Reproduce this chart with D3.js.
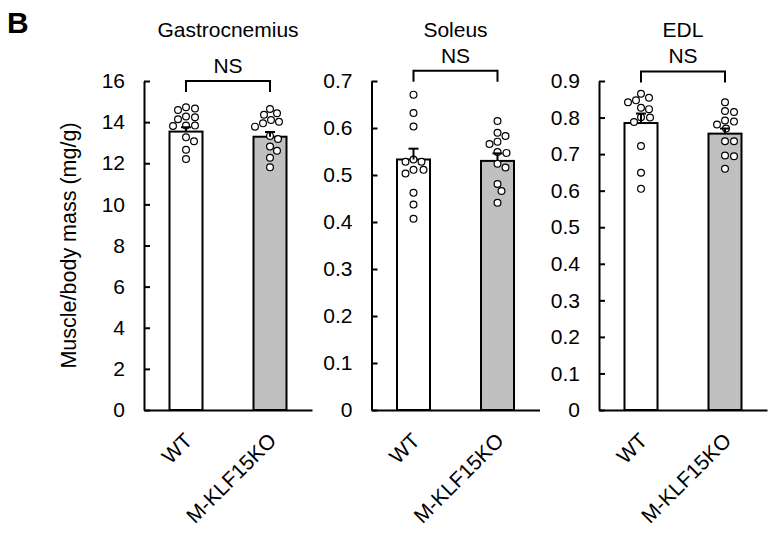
<!DOCTYPE html>
<html>
<head>
<meta charset="utf-8">
<script src="https://cdn.jsdelivr.net/npm/d3@7"></script>
<style>
  body { margin: 0; background: #fff; }
  svg text { font-family: "Liberation Sans", Arial, sans-serif; fill: #000; }
</style>
</head>
<body>
<svg id="muscle" width="779" height="533"></svg>
<script>
// panel names, groups and axis settings
const panels = ["Gastrocnemius", "Soleus", "EDL"];
const groups = ["WT", "M-KLF15KO"];
const yMax = [16, 0.7, 0.9];
const yStep = [2, 0.1, 0.1];
const bracketTop = [16, 0.722, 0.926];

// bar heights (mean) and SEM
const means = [[13.54, 13.29], [0.533, 0.530], [0.785, 0.756]];
const sems = [[0.21, 0.23], [0.023, 0.016], [0.026, 0.014]];

// individual animals
const gastroWT = [14.72, 14.66, 14.59, 14.27, 14.24, 14.14, 13.83, 13.83, 13.81, 13.26, 13.07, 12.66, 12.21];
const gastroKO = [14.64, 14.43, 14.36, 14.10, 14.02, 13.94, 13.78, 13.33, 13.18, 12.81, 12.61, 12.27, 11.80];
const soleusWT = [0.671, 0.632, 0.603, 0.533, 0.528, 0.528, 0.511, 0.511, 0.503, 0.462, 0.437, 0.407];
const soleusKO = [0.615, 0.590, 0.583, 0.571, 0.566, 0.549, 0.547, 0.524, 0.516, 0.481, 0.466, 0.441];
const edlWT = [0.865, 0.854, 0.847, 0.842, 0.827, 0.823, 0.801, 0.800, 0.788, 0.722, 0.649, 0.605];
const edlKO = [0.842, 0.818, 0.815, 0.792, 0.789, 0.781, 0.770, 0.735, 0.735, 0.696, 0.694, 0.660];
const points = [[gastroWT, gastroKO], [soleusWT, soleusKO], [edlWT, edlKO]];

const fills = ["#ffffff", "#c0c0c0"];

const svg = d3.select("svg#muscle");
const plotTop = 81, plotBottom = 410, axisLen = 168, barW = 33, r = 3.4;
const fontSize = 21;
const panelX = i => 144 + i * 227.5;

// simple beeswarm so the dots sit side by side
function swarm(values, y) {
  const placed = [];
  values.slice().sort((a, b) => b - a).forEach(v => {
    const cy = y(v);
    for (let k = 0; k < 60; k++) {
      const dx = (k % 2 ? 1 : -1) * Math.ceil(k / 2);
      const ok = placed.every(p => Math.hypot(p.dx - dx, p.cy - cy) >= 2 * r + 1.3);
      if (ok) { placed.push({ v, cy, dx }); break; }
    }
  });
  return placed;
}

svg.append("text").text("B")
  .attr("x", 7).attr("y", 33)
  .attr("font-size", 30).attr("font-weight", "bold");

svg.append("text").text("Muscle/body mass (mg/g)")
  .attr("transform", `translate(76,${(plotTop + plotBottom) / 2}) rotate(-90)`)
  .attr("text-anchor", "middle")
  .attr("font-size", 21.5);

panels.forEach((name, i) => {
  const g = svg.append("g").attr("transform", `translate(${panelX(i)},0)`);

  const yScale = d3.scaleLinear().domain([0, yMax[i]]).range([plotBottom, plotTop]);
  const xScale = d3.scalePoint().domain(groups).range([0, axisLen]).padding(0.5);

  const fmt = i == 0 ? d3.format("d") : d3.format(".1f");
  const leftAxis = d3.axisLeft(yScale)
    .tickValues(d3.range(0, yMax[i] + yStep[i] / 2, yStep[i]))
    .tickFormat(t => t == 0 ? "0" : fmt(t))
    .tickSizeInner(-6).tickSizeOuter(0).tickPadding(19);
  const ya = g.append("g").call(leftAxis);
  ya.attr("font-family", null).attr("font-size", null);
  ya.selectAll("path, line").attr("stroke-width", 2);
  ya.selectAll("text").attr("font-size", fontSize);

  // bars
  groups.forEach((grp, j) => {
    g.append("rect")
      .attr("x", xScale(grp) - barW / 2)
      .attr("y", yScale(means[i][j]))
      .attr("width", barW)
      .attr("height", yScale(0) - yScale(means[i][j]))
      .attr("fill", fills[j])
      .attr("stroke", "#000")
      .attr("stroke-width", 2);
  });

  // dots
  groups.forEach((grp, j) => {
    swarm(points[i][j], yScale).forEach(p => {
      g.append("circle")
        .attr("cx", xScale(grp) + p.dx)
        .attr("cy", p.cy)
        .attr("r", r)
        .attr("fill", "#fff")
        .attr("stroke", "#000")
        .attr("stroke-width", 1.2);
    });
  });

  // error bars (upper only)
  groups.forEach((grp, j) => {
    const cx = xScale(grp);
    const hi = yScale(means[i][j] + sems[i][j]);
    g.append("line")
      .attr("x1", cx).attr("x2", cx)
      .attr("y1", yScale(means[i][j])).attr("y2", hi)
      .attr("stroke", "#000").attr("stroke-width", 2);
    g.append("line")
      .attr("x1", cx - 5).attr("x2", cx + 5)
      .attr("y1", hi).attr("y2", hi)
      .attr("stroke", "#000").attr("stroke-width", 2);
  });

  // x axis with rotated group labels
  const bottomAxis = d3.axisBottom(xScale).tickSize(0).tickSizeOuter(0);
  const xa = g.append("g").attr("transform", `translate(0,${plotBottom})`).call(bottomAxis);
  xa.attr("font-family", null).attr("font-size", null);
  xa.select("path").attr("stroke-width", 2);
  xa.selectAll("text")
    .attr("x", 0).attr("y", 0).attr("dy", 0)
    .attr("transform", "translate(7,32) rotate(-45)")
    .attr("text-anchor", "end")
    .attr("font-size", fontSize);

  // NS bracket
  const by = yScale(bracketTop[i]);
  const x1 = xScale(groups[0]), x2 = xScale(groups[1]);
  g.append("path")
    .attr("d", `M${x1},${by + 11}V${by}H${x2}V${by + 11}`)
    .attr("fill", "none").attr("stroke", "#000").attr("stroke-width", 2);
  g.append("text").text("NS")
    .attr("x", (x1 + x2) / 2).attr("y", by - 8)
    .attr("text-anchor", "middle")
    .attr("font-size", fontSize);

  g.append("text").text(name)
    .attr("x", (x1 + x2) / 2).attr("y", 37)
    .attr("text-anchor", "middle")
    .attr("font-size", fontSize);
});
</script>
</body>
</html>
